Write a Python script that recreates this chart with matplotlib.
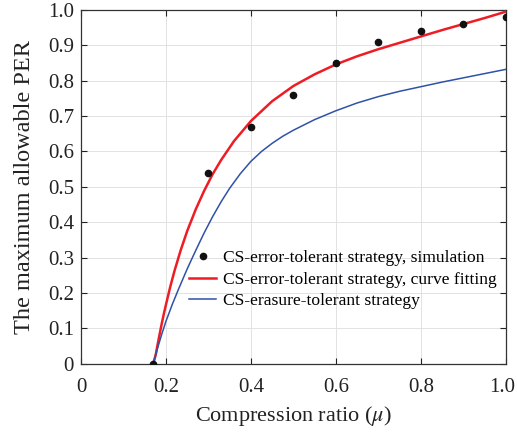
import matplotlib
matplotlib.use('Agg')
import matplotlib.pyplot as plt
from matplotlib.transforms import ScaledTranslation

plt.rcParams['font.family'] = ['Liberation Serif', 'DejaVu Serif']
plt.rcParams['mathtext.fontset'] = 'stix'

# simulation points
sim_x = [0.17, 0.3, 0.4, 0.5, 0.6, 0.7, 0.8, 0.9, 1.0]
sim_y = [0.0, 0.54, 0.67, 0.76, 0.85, 0.91, 0.94, 0.96, 0.98]

# curve fitting
fit_x = [0.17, 0.176, 0.18, 0.185, 0.19, 0.195, 0.20, 0.21, 0.22, 0.235, 0.25,
         0.27, 0.29, 0.31, 0.33, 0.36, 0.40, 0.45, 0.50, 0.55, 0.60, 0.65,
         0.70, 0.75, 0.80, 0.85, 0.90, 0.95, 1.00]
fit_y = [0.0, 0.026, 0.052, 0.083, 0.113, 0.141, 0.167, 0.217, 0.262, 0.322, 0.375,
         0.436, 0.489, 0.536, 0.576, 0.629, 0.686, 0.742, 0.785, 0.818, 0.846, 0.869,
         0.889, 0.907, 0.925, 0.943, 0.96, 0.977, 0.995]

# erasure-tolerant strategy
era_x = [0.17, 0.18, 0.19, 0.20, 0.215, 0.23, 0.25, 0.27, 0.29, 0.31, 0.33,
         0.35, 0.375, 0.40, 0.425, 0.45, 0.475, 0.50, 0.55, 0.60, 0.65, 0.70,
         0.75, 0.80, 0.85, 0.90, 0.95, 1.00]
era_y = [0.0, 0.043, 0.083, 0.12, 0.168, 0.212, 0.268, 0.32, 0.37, 0.416, 0.458,
         0.496, 0.537, 0.572, 0.6, 0.623, 0.643, 0.66, 0.69, 0.715, 0.737, 0.755,
         0.77, 0.783, 0.796, 0.808, 0.82, 0.832]

x_ticks = [0, 0.2, 0.4, 0.6, 0.8, 1.0]
x_labels = ['0', '0.2', '0.4', '0.6', '0.8', '1.0']
y_ticks = [0, 0.1, 0.2, 0.3, 0.4, 0.5, 0.6, 0.7, 0.8, 0.9, 1.0]
y_labels = ['0', '0.1', '0.2', '0.3', '0.4', '0.5', '0.6', '0.7', '0.8', '0.9', '1.0']

fig = plt.figure(figsize=(5.17, 4.32), dpi=100)
ax = fig.add_axes([0.1567, 0.158, 0.8215, 0.819])

ax.plot(sim_x, sim_y, 'o', color='#111111', markersize=4.5,
        label='CS-error-tolerant strategy, simulation', zorder=4)
ax.plot(fit_x, fit_y, color='#ee1c24', linewidth=1.8,
        label='CS-error-tolerant strategy, curve fitting', zorder=3)
ax.plot(era_x, era_y, color='#2f52a8', linewidth=1.1,
        label='CS-erasure-tolerant strategy', zorder=3)

ax.set_xlim(0, 1)
ax.set_ylim(0, 1)
ax.set_xticks(x_ticks)
ax.set_xticklabels(x_labels)
ax.set_yticks(y_ticks)
ax.set_yticklabels(y_labels)
ax.tick_params(direction='in', top=True, right=True, length=4, width=0.8,
               labelsize=15, colors='#222222')
ax.tick_params(axis='x', pad=10)
ax.tick_params(axis='y', pad=5)
# the last x label sits a little left so it stays inside the figure
last = ax.get_xticklabels()[-1]
last.set_transform(last.get_transform() + ScaledTranslation(-4 / 100, 0, fig.dpi_scale_trans))

ax.grid(True, color='#e2e2e2', linewidth=0.7)
ax.set_axisbelow(True)
for s in ax.spines.values():
    s.set_color('#333333')
    s.set_linewidth(0.9)

ax.set_xlabel(r'Compression ratio ($\mu$)', fontsize=16, color='#222222', labelpad=5)
ax.set_ylabel('The maximum allowable PER', fontsize=17.5, color='#222222', labelpad=9)

ax.legend(loc='upper left', bbox_to_anchor=(0.255, 0.321), frameon=False,
          fontsize=12.6, borderaxespad=0, borderpad=0, handlelength=1.55,
          handletextpad=0.4, labelspacing=0.3)

plt.savefig('out.png', dpi=100)
